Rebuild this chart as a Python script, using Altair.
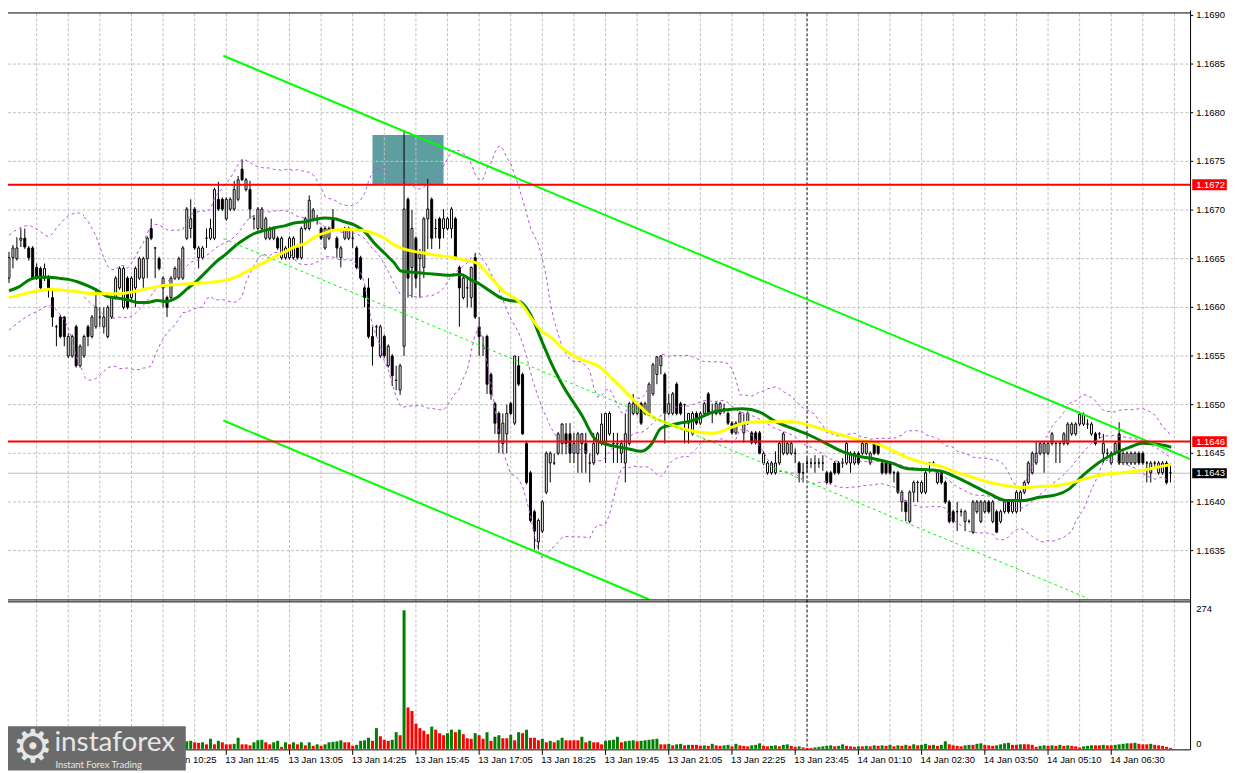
import altair as alt
import pandas as pd

# ---------------- data (prices in points = 0.00001 above 1.16000) ----------------
BASE = 1.16

OPEN = [
    630,651,650,669,671,661,661,641,640,630,
    631,610,580,590,590,550,550,580,540,550,
    580,570,580,590,580,570,590,610,620,600,
    630,610,620,630,630,650,681,661,650,620,
    610,610,630,630,630,671,681,701,651,651,
    671,671,671,711,711,691,701,701,711,742,
    721,721,691,681,681,671,671,671,671,651,
    651,651,651,661,651,681,681,690,690,681,
    661,671,691,671,651,671,671,671,661,651,
    620,620,570,580,550,570,540,550,525,515,
    560,711,641,671,650,641,691,711,681,691,
    681,681,681,691,641,610,620,610,651,580,
    560,570,531,501,491,460,470,501,481,540,
    531,460,430,390,359,370,410,440,440,450,
    460,470,470,450,450,460,460,440,440,450,
    460,460,470,460,460,450,440,460,491,491,
    501,491,491,511,531,540,531,491,491,521,
    501,500,481,470,491,481,491,511,491,491,
    491,496,491,481,471,481,471,481,471,471,
    471,440,430,430,430,440,450,450,450,450,
    440,430,440,440,440,440,440,430,430,440,
    440,440,440,440,440,450,450,450,440,460,
    460,440,440,440,430,430,400,400,380,410,
    420,410,410,440,440,420,430,420,400,390,
    390,390,380,380,369,390,380,390,400,380,
    390,380,390,400,390,390,400,410,420,430,
    440,450,450,450,460,460,460,460,460,470,
    470,480,480,480,470,470,470,450,450,440,
    450,470,440,440,440,440,450,450,440,430,
    440,430,430,440,430]
HIGH = [
    657,664,672,681,681,663,663,645,642,645,
    633,620,582,592,591,573,572,582,562,572,
    582,592,620,600,600,602,612,632,642,642,
    632,632,642,652,652,673,691,662,652,632,
    612,632,642,652,663,703,711,703,663,663,
    681,691,723,729,713,713,713,730,735,752,
    733,730,695,703,703,693,683,683,673,673,
    663,673,673,663,683,693,715,702,695,683,
    683,683,701,673,663,683,683,681,663,653,
    622,630,580,582,582,572,562,552,540,542,
    782,713,700,673,660,693,732,713,691,693,
    701,693,703,693,643,632,630,642,656,590,
    570,572,533,503,493,491,500,503,550,550,
    533,462,432,392,383,402,452,452,450,472,
    481,481,481,471,472,471,471,450,471,472,
    491,491,493,471,471,462,491,503,511,503,
    503,503,523,543,550,551,533,511,513,523,
    503,501,491,493,493,493,503,513,501,503,
    503,501,493,483,483,493,491,493,473,473,
    473,452,442,442,452,462,472,462,462,455,
    442,440,445,445,448,445,448,432,432,442,
    442,445,462,452,452,452,462,462,452,462,
    462,442,442,442,432,432,412,402,412,422,
    422,422,432,441,442,432,432,422,402,392,
    400,393,392,382,402,402,402,402,402,402,
    392,392,402,402,402,412,412,422,442,452,
    462,462,462,462,472,462,462,472,482,482,
    482,492,492,485,482,472,472,470,455,452,
    462,482,452,452,452,452,452,452,442,442,
    442,442,442,442,440]
LOW = [
    625,640,648,662,660,648,628,628,617,627,
    610,580,560,568,560,548,548,538,538,548,
    560,568,578,580,573,568,588,608,618,598,
    598,608,600,628,620,630,669,630,638,600,
    590,608,628,628,628,669,671,659,640,649,
    661,669,669,699,699,689,699,699,709,730,
    719,691,680,679,679,669,669,669,659,649,
    649,649,649,649,649,679,679,688,685,669,
    659,669,679,651,641,669,669,661,639,628,
    600,568,540,570,548,548,538,519,515,510,
    550,610,610,620,610,630,660,660,671,660,
    671,679,671,649,580,608,600,600,588,550,
    550,511,505,470,450,450,450,489,479,519,
    469,418,379,351,351,368,408,420,438,448,
    449,449,440,440,430,430,430,420,438,448,
    458,440,468,440,440,440,420,458,489,489,
    479,489,489,509,521,531,460,489,489,489,
    489,460,460,468,479,479,489,489,481,489,
    489,491,479,469,469,479,461,479,459,459,
    449,438,428,428,428,438,448,448,448,440,
    420,420,430,435,430,435,432,418,418,428,
    428,435,438,430,438,438,448,448,438,448,
    448,428,428,428,420,408,390,380,378,400,
    400,408,408,430,438,418,418,398,378,378,
    370,385,370,378,367,388,378,388,388,378,
    368,378,388,388,388,388,390,408,418,428,
    438,448,430,448,458,440,440,458,458,468,
    468,478,478,475,468,458,465,440,445,438,
    448,438,438,438,438,438,438,438,420,420,
    435,428,428,418,420]
CLOSE = [
    651,661,661,671,662,651,630,630,620,640,
    620,590,580,570,570,570,570,540,560,570,
    570,590,600,590,590,600,610,630,640,640,
    600,630,640,650,650,671,671,661,640,630,
    600,630,640,650,661,701,691,661,661,661,
    671,681,721,701,701,711,711,721,731,731,
    731,701,691,701,701,691,681,681,661,671,
    661,671,671,651,681,691,710,700,690,671,
    681,681,681,661,661,681,681,671,641,630,
    610,570,560,580,580,550,560,530,525,540,
    701,630,681,630,655,691,701,671,681,671,
    691,691,701,651,620,630,620,641,590,570,
    560,521,511,481,470,481,491,491,550,521,
    470,420,381,370,381,400,450,450,440,470,
    480,460,450,460,470,470,450,440,460,470,
    480,491,491,460,460,460,470,501,501,501,
    481,501,521,541,549,550,491,501,511,491,
    491,500,491,491,481,491,501,491,491,501,
    501,496,481,471,481,491,481,491,461,461,
    450,450,440,440,440,460,470,460,460,450,
    430,430,440,440,440,440,440,420,420,430,
    430,440,460,450,450,440,460,460,450,450,
    450,430,430,430,430,410,410,390,410,420,
    420,420,430,440,440,430,420,400,380,380,
    390,390,390,380,400,400,400,400,390,400,
    369,390,400,390,400,410,410,420,440,450,
    450,460,460,460,470,460,460,470,480,480,
    480,490,490,480,480,460,470,460,450,450,
    460,440,450,450,450,450,440,440,440,440,
    440,440,440,420,430]
VOLUME = [
    10,12,9,14,11,8,13,10,12,9, 15,11,10,13,9,12,14,10,11,9,
    13,12,10,15,11,9,12,14,10,13, 11,12,9,14,10,12,13,11,9,12,
    10,14,11,13,10,
    15,16,13,12,13,9,20,9,16,13,
    9,9,10,22,9,9,7,13,17,18,
    13,9,13,16,4,13,9,13,9,13,
    7,13,6,9,6,9,13,14,15,17,
    13,13,6,8,16,17,22,16,41,25,
    18,16,18,33,27,274,82,75,50,41,
    36,29,44,38,31,27,31,38,33,38,
    29,21,20,31,27,20,33,16,24,27,
    21,21,28,17,33,31,38,22,22,17,
    20,13,16,13,17,22,17,17,17,17,
    24,13,16,13,13,9,16,17,18,24,
    13,15,16,17,15,16,17,18,19,20,
    9,9,10,7,9,10,7,8,8,8,
    6,7,6,10,7,6,7,8,5,10,
    7,6,5,7,8,11,6,5,6,7,
    5,8,9,6,4,5,3,2,2,3,
    4,5,6,7,5,6,9,6,5,4,
    5,5,6,5,7,6,7,6,8,5,
    7,6,8,6,9,7,8,10,7,8,
    6,8,15,9,7,6,5,7,8,8,
    10,11,8,7,6,7,9,11,12,8,
    8,9,9,9,8,4,6,7,6,7,
    6,8,6,7,6,5,3,5,6,7,
    7,7,8,7,7,8,9,10,11,11,
    12,10,9,9,10,8,7,6,4,2]

# moving averages: (bar index, points)
GREEN_MA = [(0,617),(2.5,621),(5,628),(7.5,631),(10,631),(12.5,630),(15,628.7),(17.5,626),(20,622),
    (22.5,617),(25,611),(27.5,609.5),(30,607.8),(32.5,605),(35,605),(37.5,607),(40,606),(42.5,610),
    (45,618.6),(47.5,627),(50,637),(52.5,647),(55,655),(57.5,664),(60,671),(62.5,676.6),(65,679.3),
    (67.5,682),(70,684),(72.5,687),(75,688),(77.5,690.5),(80,691.8),(82.5,691),(85,687.8),(87.5,684.4),
    (90,677.7),(92.5,665.9),(95,655.8),(97.5,645.7),(99.2,637.3),(101.7,636.2),(105,634.9),(108.3,633.9),
    (111.7,632.9),(114.2,633.9),(116.7,628.8),(119.2,623.8),(121.7,617),(124.2,610.3),(126.7,607),
    (129.2,606),(131.7,595),(135,564),(137.5,540.5),(140,521),(145,489),(148.75,463),(151.7,458.8),
    (156.7,454.7),(160,452),(162.5,458.8),(165,475.6),(167.5,479),(173.3,484),(178.3,492.4),(181.7,494.8),
    (185.8,495.8),(190,492.4),(194.2,482.3),(198.3,475.5),(202.5,468.8),(206.7,460.4),(210.8,452),
    (215,446.9),(219.2,444.2),(223.3,440.2),(227.5,434.1),(231.7,433.4),(235.8,431.8),(240,425),
    (244.2,416.6),(248.3,408.2),(252.5,401.4),(256.7,401.4),(260.8,404.8),(265,407.2),(268.3,413.2),
    (271.7,426.7),(275.8,440.2),(280,450.3),(284.2,457),(286.7,460.4),(290,459.7),(294.2,456.3)]
YELLOW_MA = [(0,610),(2.5,612.5),(5,615),(7.5,617),(10,618.6),(12.5,618),(15,617),(17.5,616),(20,614.5),
    (22.5,614),(25,614),(27.5,614),(30,615),(32.5,617),(35,619.3),(37.5,621.3),(40,622.6),(42.5,623.3),
    (45,624),(47.5,624.7),(50,625.3),(52.5,626.4),(55,628),(57.5,631.4),(60,636.5),(62.5,641.5),(65,647),
    (67.5,652.3),(70,657.4),(72.5,662.4),(75,665.8),(77.5,672.6),(80,676.6),(82.5,679.4),(85,680),
    (87.5,679.4),(90,678.7),(92.5,676),(95,671),(97.5,664.2),(100,659.8),(102.5,657.5),(105,655.8),
    (108.3,653.4),(111.7,651.7),(115,649),(118.3,645.7),(121.7,632),(125,617),(128.3,608.6),(130,602),
    (131.7,591.8),(135,575),(137.5,568.2),(140,558.1),(145,546.3),(149.2,539.6),(153.3,524.4),
    (158.3,504.2),(161.7,490.8),(166.7,480.7),(171.7,473.9),(178.3,470.5),(183.3,477.3),(186.7,481.7),
    (190,482.3),(194.2,482.3),(198.3,482.3),(202.5,478.9),(206.7,473.8),(210.8,468.8),(215,463.7),
    (219.2,460.4),(223.3,453.6),(227.5,445.2),(231.7,440.2),(235.8,436.8),(240,430.1),(244.2,425),
    (248.3,420),(252.5,416.6),(256.7,414.9),(260.8,415.9),(265,416.6),(269.2,420),(273.3,425),
    (277.5,428.4),(281.7,430.1),(285.8,431.8),(290,435.1),(294.2,438.5)]
# Bollinger band edges for the first bars (before a full 20-bar window)
BB_UPPER_EARLY = [(0,674),(2.5,681),(5,684),(7.5,679),(10,673),(12.5,684),(15,694),(17.5,697),(19,694)]
BB_LOWER_EARLY = [(0,576.5),(2.5,584.9),(5,591.6),(7.5,596.7),(10,601.7),(12.5,595),(15,578.2),(17.5,544.5),(19,532)]
BB_PERIOD = 20
BB_DEV = 2

CHANNEL_UPPER = [(54.25, 858.5), (299.0, 444.0)]
CHANNEL_LOWER = [(54.25, 483.7), (161.9, 300.0)]
CHANNEL_MID = [(54.25, 670.6), (273.1, 301.0)]

RED_LEVELS = [726.0, 462.0]
RED_LABELS = ["1.1672", "1.1646"]
LAST_LEVEL = 429.5
LAST_LABEL = "1.1643"
ZONE = {"b0": 92.0, "b1": 110.0, "v0": 726.5, "v1": 777.0}
DAY_BREAK_BAR = [202]
VOL_MAX = 274

TIME_LABELS = ["13 Jan 10:25", "13 Jan 11:45", "13 Jan 13:05", "13 Jan 14:25", "13 Jan 15:45",
               "13 Jan 17:05", "13 Jan 18:25", "13 Jan 19:45", "13 Jan 21:05", "13 Jan 22:25",
               "13 Jan 23:45", "14 Jan 01:10", "14 Jan 02:30", "14 Jan 03:50", "14 Jan 05:10",
               "14 Jan 06:30"]
TIME_LABEL_BAR = [39, 55, 71, 87, 103, 119, 135, 151, 167, 183, 199, 215, 231, 247, 263, 279]
PRICE_TICKS = [1.1635, 1.1640, 1.1645, 1.1650, 1.1655, 1.1660, 1.1665, 1.1670, 1.1675, 1.1680, 1.1685, 1.1690]


def pr(v):
    return BASE + v / 100000.0


# ---------------- layout helpers ----------------
KX = 1190 / 1197
KY = 765 / 773
W, H = 1230, 765


def PX(x):
    return round(x * KX, 2)


def PY(y):
    return round(y * KY, 2)


P_TOP = 1.16905052
P_BOT = 1.16299818
xs = alt.Scale(domain=[-0.25, 299.0], range=[0, PX(1197)], nice=False, zero=False)
ys = alt.Scale(domain=[P_BOT, P_TOP], range=[PY(599), 0], nice=False, zero=False)
vs = alt.Scale(domain=[0, VOL_MAX], range=[PY(751), PY(610)], nice=False, zero=False)


def XQ(f):
    return alt.X(f + ":Q", scale=xs, axis=None)


def YQ(f):
    return alt.Y(f + ":Q", scale=ys, axis=None)


FONT = "Liberation Sans"
FS = 9.5
one = pd.DataFrame({"a": [0]})

# ---------------- frames ----------------
n = len(CLOSE)
candles = pd.DataFrame({
    "j": list(range(n)),
    "o": [pr(v) for v in OPEN],
    "h": [pr(v) for v in HIGH],
    "l": [pr(v) for v in LOW],
    "c": [pr(v) for v in CLOSE],
})
vcol = []
for i, v in enumerate(VOLUME):
    vcol.append("#008000" if (i == 0 or v > VOLUME[i - 1]) else "#FF0000")
vol = pd.DataFrame({"j": list(range(len(VOLUME))), "vol": VOLUME, "zero": 0, "col": vcol})


def line_df(pts, name):
    return pd.DataFrame({"j": [p[0] for p in pts], "p": [pr(p[1]) for p in pts], "id": name})


green = line_df(GREEN_MA, "g")
yellow = line_df(YELLOW_MA, "y")
bands_early = pd.concat([line_df(BB_UPPER_EARLY, "u"), line_df(BB_LOWER_EARLY, "l")])
chan = pd.concat([line_df(CHANNEL_UPPER, "u"), line_df(CHANNEL_LOWER, "l")])
chan_mid = line_df(CHANNEL_MID, "m")

zone = pd.DataFrame({"b0": [ZONE["b0"]], "b1": [ZONE["b1"]], "p0": [pr(ZONE["v0"])], "p1": [pr(ZONE["v1"])]})
vgrid = pd.DataFrame({"j": list(range(7, 296, 8))})
hgrid = pd.DataFrame({"p": PRICE_TICKS[:-1]})
ticks = pd.DataFrame({"p": PRICE_TICKS, "t": ["%.4f" % t for t in PRICE_TICKS]})
red = pd.DataFrame({"p": [pr(v) for v in RED_LEVELS], "t": RED_LABELS})
last = pd.DataFrame({"p": [pr(LAST_LEVEL)], "t": [LAST_LABEL]})
tl = pd.DataFrame({"j": TIME_LABEL_BAR, "t": TIME_LABELS})
daybr = pd.DataFrame({"j": DAY_BREAK_BAR})

BB_COLOR = "#B452D8"
layers = []
layers.append(alt.Chart(zone).mark_rect(color="#5F9EA0").encode(
    x=XQ("b0"), x2=alt.X2("b1"), y=YQ("p0"), y2=alt.Y2("p1")))
layers.append(alt.Chart(vgrid).mark_rule(color="#C0C0C0", strokeDash=[3, 2], strokeWidth=1).encode(
    x=XQ("j"), y=alt.value(PY(3)), y2=alt.value(PY(752))))
layers.append(alt.Chart(hgrid).mark_rule(color="#C0C0C0", strokeDash=[3, 2], strokeWidth=1).encode(
    y=YQ("p"), x=alt.value(0), x2=alt.value(PX(1197))))
layers.append(alt.Chart(daybr).mark_rule(color="black", strokeDash=[3, 2], strokeWidth=1).encode(
    x=XQ("j"), y=alt.value(PY(3)), y2=alt.value(PY(752))))
layers.append(alt.Chart(last).mark_rule(color="#C0C0C0", strokeWidth=1).encode(
    y=YQ("p"), x=alt.value(0), x2=alt.value(PX(1197))))
layers.append(alt.Chart(candles).mark_rule(color="black", strokeWidth=1).encode(
    x=XQ("j"), y=YQ("l"), y2=alt.Y2("h")))
layers.append(alt.Chart(candles).transform_calculate(
    xl="datum.j - 0.25", xr="datum.j + 0.25").mark_rect(stroke="black", strokeWidth=1).encode(
    x=XQ("xl"), x2=alt.X2("xr"), y=YQ("o"), y2=alt.Y2("c"),
    fill=alt.condition("datum.c >= datum.o", alt.value("white"), alt.value("black"))))
# Bollinger bands (20, 2) on close
layers.append(alt.Chart(candles).transform_window(
    mid="mean(c)", sd="stdevp(c)", frame=[-(BB_PERIOD - 1), 0], sort=[alt.SortField("j")]
).transform_filter(alt.datum.j >= BB_PERIOD - 1).transform_calculate(
    up="datum.mid + %d * datum.sd" % BB_DEV, lo="datum.mid - %d * datum.sd" % BB_DEV
).transform_fold(["up", "mid", "lo"], as_=["band", "p"]).mark_line(
    color=BB_COLOR, strokeDash=[3, 3], strokeWidth=1).encode(
    x=XQ("j"), y=YQ("p"), detail="band:N"))
layers.append(alt.Chart(bands_early).mark_line(color=BB_COLOR, strokeDash=[3, 3], strokeWidth=1,
                                               interpolate="monotone").encode(
    x=XQ("j"), y=YQ("p"), detail="id:N"))
layers.append(alt.Chart(green).mark_line(color="#008000", strokeWidth=3, interpolate="monotone").encode(
    x=XQ("j"), y=YQ("p")))
layers.append(alt.Chart(yellow).mark_line(color="#FFFF00", strokeWidth=3, interpolate="monotone").encode(
    x=XQ("j"), y=YQ("p")))
layers.append(alt.Chart(chan).mark_line(color="#00FF00", strokeWidth=2).encode(
    x=XQ("j"), y=YQ("p"), detail="id:N"))
layers.append(alt.Chart(chan_mid).mark_line(color="#00FF00", strokeWidth=1, strokeDash=[3, 3]).encode(
    x=XQ("j"), y=YQ("p")))
layers.append(alt.Chart(red).mark_rule(color="#FF0000", strokeWidth=2).encode(
    y=YQ("p"), x=alt.value(0), x2=alt.value(PX(1197))))
layers.append(alt.Chart(vol).transform_calculate(
    xl="datum.j - 0.38", xr="datum.j + 0.38").mark_rect().encode(
    x=XQ("xl"), x2=alt.X2("xr"),
    y=alt.Y("vol:Q", scale=vs, axis=None), y2=alt.Y2("zero"),
    fill=alt.Fill("col:N", scale=None)))
for (x0, x1, y0, y1) in [(0, 1197, 2.5, 2.5), (0, 1197, 599.5, 599.5), (0, 1197, 601.5, 601.5),
                         (0, 1197, 752, 752), (1197.3, 1197.3, 0, 752)]:
    layers.append(alt.Chart(one).mark_rule(color="black", strokeWidth=1).encode(
        x=alt.value(PX(x0)), x2=alt.value(PX(x1)), y=alt.value(PY(y0)), y2=alt.value(PY(y1))))
layers.append(alt.Chart(ticks).mark_rule(color="black", strokeWidth=1).encode(
    y=YQ("p"), x=alt.value(PX(1197)), x2=alt.value(PX(1200))))
layers.append(alt.Chart(ticks).mark_text(align="left", baseline="middle", font=FONT, fontSize=FS,
                                         color="black").encode(
    y=YQ("p"), x=alt.value(PX(1203)), text="t:N"))
layers.append(alt.Chart(red).mark_rule(color="#FF0000", strokeWidth=11, strokeCap="butt").encode(
    y=YQ("p"), x=alt.value(PX(1199)), x2=alt.value(PX(1234))))
layers.append(alt.Chart(last).mark_rule(color="black", strokeWidth=10, strokeCap="butt").encode(
    y=YQ("p"), x=alt.value(PX(1199)), x2=alt.value(PX(1234))))
for df in (red, last):
    layers.append(alt.Chart(df).mark_text(align="left", baseline="middle", font=FONT, fontSize=FS,
                                          color="white").encode(
        y=YQ("p"), x=alt.value(PX(1203)), text="t:N"))
layers.append(alt.Chart(tl).mark_rule(color="black", strokeWidth=1).encode(
    x=XQ("j"), y=alt.value(PY(752)), y2=alt.value(PY(757))))
layers.append(alt.Chart(tl).mark_text(align="left", baseline="middle", font=FONT, fontSize=FS,
                                      color="black", dx=-1).encode(
    x=XQ("j"), y=alt.value(PY(762.5)), text="t:N"))
vlab = pd.DataFrame({"t": [str(VOL_MAX), "0"], "yy": [PY(609), PY(746)]})
layers.append(alt.Chart(vlab).mark_text(align="left", baseline="middle", font=FONT, fontSize=FS,
                                        color="black").encode(
    x=alt.value(PX(1203)), y=alt.Y("yy:Q", scale=None), text="t:N"))
# logo
layers.append(alt.Chart(one).mark_rect(color="#6B6B6B").encode(
    x=alt.value(0), x2=alt.value(PX(180)), y=alt.value(PY(728)), y2=alt.value(PY(773))))
layers.append(alt.Chart(one).mark_text(text="\u2699", font="DejaVu Sans", fontSize=46, color="#E6E6E6",
                                       align="center", baseline="middle").encode(
    x=alt.value(PX(25)), y=alt.value(PY(750))))
layers.append(alt.Chart(one).mark_text(text="instaforex", font="Lato", fontSize=28, color="#E6E6E6",
                                       align="left", baseline="alphabetic").encode(
    x=alt.value(PX(47)), y=alt.value(PY(753))))
layers.append(alt.Chart(one).mark_text(text="Instant Forex Trading", font="Lato", fontSize=9.5,
                                       color="#E6E6E6", align="left", baseline="alphabetic").encode(
    x=alt.value(PX(48)), y=alt.value(PY(770))))

chart = alt.layer(*layers).resolve_scale(y="independent").properties(
    width=W, height=H, autosize=alt.AutoSizeParams(type="none"), padding=0, background="white"
).configure_view(stroke=None)

chart.save("out.html", embed_options={"renderer": "svg", "actions": False})
